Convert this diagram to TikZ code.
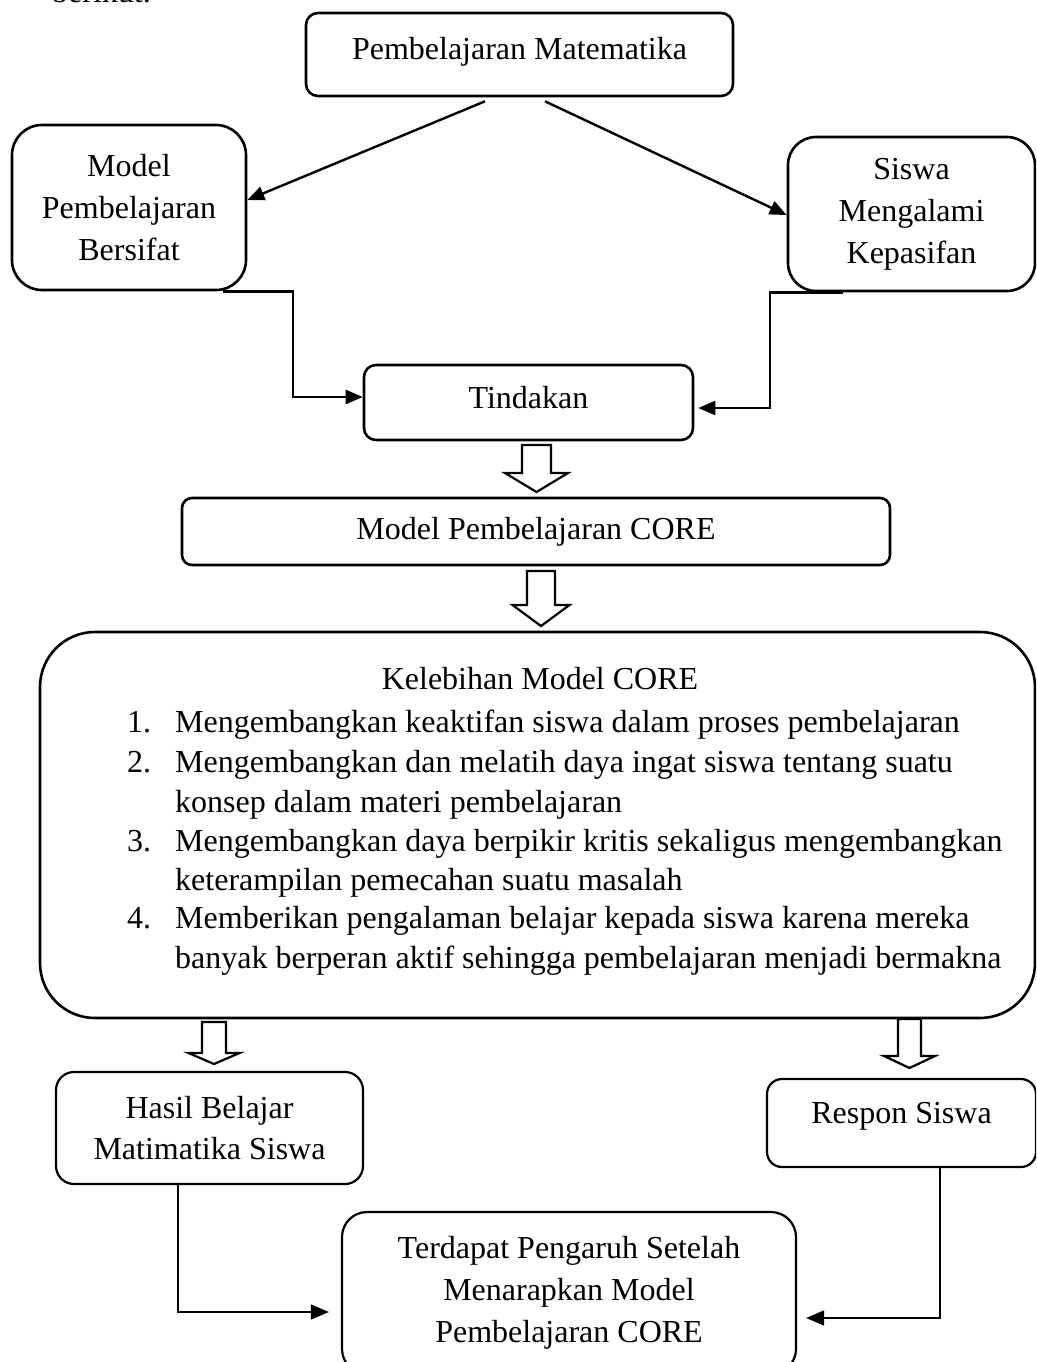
\documentclass[tikz,border=0pt]{standalone}
\usepackage{fontspec}
\setmainfont{Liberation Serif}
\usetikzlibrary{arrows.meta}
\tikzset{
 box/.style={draw, line width=2.6pt, rounded corners=#1, inner sep=0pt, align=center, font=\fontsize{32pt}{42pt}\selectfont},
 box/.default=12pt,
 txt/.style={inner sep=0pt, font=\fontsize{32pt}{40pt}\selectfont},
 arr/.style={line width=2.4pt, -{Triangle[length=17pt,width=14pt]}},
 arrthin/.style={line width=1.6pt, -{Triangle[length=18pt,width=15pt]}},
 hollow/.style={draw, line width=2.2pt, fill=white, line join=miter},
}
\newcommand{\blockarr}[6]{%
 \draw[hollow] ({#1-#3},#2) -- ({#1+#3},#2) -- ({#1+#3},#4) -- ({#1+#5},#4) -- (#1,#6) -- ({#1-#5},#4) -- ({#1-#3},#4) -- cycle;}
\begin{document}
\begin{tikzpicture}[x=1pt,y=-1pt]
\useasboundingbox (0,0) rectangle (1036,1362);
\clip (0,0) rectangle (1036,1362);
\fill[white] (0,0) rectangle (1036,1362);

\node[txt, anchor=base west] (ber) at (52,2.5) {berikut.};

% top boxes
\node[box=12pt, minimum width=427pt, minimum height=83pt, text height=22pt, text depth=11pt] (pm) at (519.5,54.5) {Pembelajaran Matematika};
\node[box=30pt, minimum width=234pt, minimum height=165pt] (mpb) at (129,207.5) {Model\\Pembelajaran\\Bersifat};
\node[box=28pt, minimum width=247pt, minimum height=154pt] (siswa) at (911.5,214) {Siswa\\Mengalami\\Kepasifan};
\node[box=12pt, minimum width=329pt, minimum height=75pt, text height=22pt, text depth=11pt] (tind) at (528.5,402.5) {Tindakan};
\node[box=10pt, minimum width=708pt, minimum height=67pt] (core) at (536,531.5) {Model Pembelajaran CORE};

% connectors top
\draw[arr] ([xshift=-34.5pt,yshift=-4pt]pm.south) -- ([yshift=7.5pt]mpb.east);
\draw[arr] ([xshift=25.5pt,yshift=-4pt]pm.south) -- ([yshift=-1pt]siswa.west);
\draw[arr] ([xshift=94pt]mpb.south) -- ++(70,0) |- ([yshift=5.5pt]tind.west);
\draw[arr] ([xshift=-68.5pt]siswa.south) -- ++(-73,0) |- ([xshift=4pt,yshift=-5.5pt]tind.east);

% block arrows
\blockarr{536.5}{445}{14.5}{473}{31.5}{492}
\blockarr{541}{571}{14}{605}{28.5}{626}

% big box
\node[box=55pt, minimum width=995pt, minimum height=386pt] (kel) at (537.5,825) {};
\node[txt, anchor=base] (kh) at (540,689) {Kelebihan Model CORE};
\node[txt, anchor=base west] (n1) at (127,732) {1.};
\node[txt, anchor=base west] (l1) at (175,732) {Mengembangkan keaktifan siswa dalam proses pembelajaran};
\node[txt, anchor=base west] (n2) at (127,772) {2.};
\node[txt, anchor=base west] (l2) at (175,772) {Mengembangkan dan melatih daya ingat siswa tentang suatu};
\node[txt, anchor=base west] (l2b) at (175,812) {konsep dalam materi pembelajaran};
\node[txt, anchor=base west] (n3) at (127,851) {3.};
\node[txt, anchor=base west] (l3) at (175,851) {Mengembangkan daya berpikir kritis sekaligus mengembangkan};
\node[txt, anchor=base west] (l3b) at (175,890) {keterampilan pemecahan suatu masalah};
\node[txt, anchor=base west] (n4) at (127,928) {4.};
\node[txt, anchor=base west] (l4) at (175,928) {Memberikan pengalaman belajar kepada siswa karena mereka};
\node[txt, anchor=base west] (l4b) at (175,968) {banyak berperan aktif sehingga pembelajaran menjadi bermakna};

\blockarr{214}{1022}{12}{1053}{25.5}{1064}
\blockarr{909.5}{1019}{11.5}{1056}{25.5}{1068}

% bottom boxes
\node[box=18pt, line width=2.2pt, minimum width=307pt, minimum height=112pt, font=\fontsize{32pt}{41pt}\selectfont] (hasil) at (209.5,1128) {Hasil Belajar\\Matimatika Siswa};
\node[box=15pt, line width=2.2pt, minimum width=269pt, minimum height=88pt, text height=22pt, text depth=22pt] (respon) at (901.5,1123) {Respon Siswa};
\node[box=25pt, line width=2.2pt, minimum width=454pt, minimum height=162pt] (terd) at (569,1293) {Terdapat Pengaruh Setelah\\Menarapkan Model\\Pembelajaran CORE};

\draw[arrthin] ([xshift=-31.5pt]hasil.south) |- ([xshift=-12pt,yshift=-19pt]terd.west);
\draw[arrthin] ([xshift=38.5pt]respon.south) |- ([xshift=9pt,yshift=-25pt]terd.east);
\end{tikzpicture}
\end{document}
